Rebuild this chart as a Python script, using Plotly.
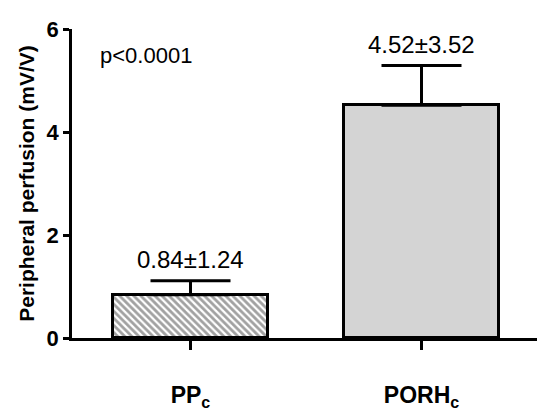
import plotly.graph_objects as go

# Group labels and measured values
categories = ["PP<sub>c</sub>", "PORH<sub>c</sub>"]
means = [0.84, 4.52]
sds = [1.24, 3.52]
sems = [0.27, 0.77]
y_ticks = [0, 2, 4, 6]

value_labels = [f"{m:.2f}\u00b1{s:.2f}" for m, s in zip(means, sds)]
xpos = list(range(len(categories)))

FONT = "Arial, Liberation Sans, sans-serif"

fig = go.Figure()

fig.add_trace(go.Bar(
    x=xpos,
    y=means,
    width=0.675,
    marker=dict(
        color=["white", "#d4d4d4"],
        line=dict(color="black", width=3),
        pattern=dict(shape=["\\", ""], fgcolor="black", bgcolor="white",
                     size=5, solidity=0.55),
    ),
    error_y=dict(type="data", array=sems, arrayminus=[0, 0], symmetric=False,
                 color="black", thickness=3, width=40),
    showlegend=False,
))

# Mean ± SD labels above each bar
for x, m, e, t in zip(xpos, means, sems, value_labels):
    fig.add_annotation(x=x, y=m + e, text=t, showarrow=False, yanchor="bottom",
                       yshift=6, font=dict(family=FONT, size=24, color="black"))

fig.add_annotation(x=0.056, y=0.913, xref="paper", yref="paper", text="p<0.0001",
                   showarrow=False, xanchor="left", yanchor="middle",
                   font=dict(family=FONT, size=22, color="black"))

fig.update_layout(
    width=537, height=411,
    margin=dict(l=72, r=0, t=29, b=73),
    plot_bgcolor="white", paper_bgcolor="white",
    font=dict(family=FONT, color="black"),
    bargap=0,
)

fig.update_xaxes(
    range=[-0.513, 1.5],
    tickvals=xpos, ticktext=categories,
    ticks="outside", ticklen=9, tickwidth=2.5, tickcolor="black",
    showline=True, linecolor="black", linewidth=2.5,
    showgrid=False, zeroline=False, automargin=False,
    tickfont=dict(family=FONT, size=23, color="black", weight="bold"),
    ticklabelstandoff=26,
)

fig.update_yaxes(
    range=[0, 6],
    tickvals=y_ticks, ticktext=[str(v) for v in y_ticks],
    ticks="outside", ticklen=6, tickwidth=2.5, tickcolor="black",
    showline=True, linecolor="black", linewidth=2.5,
    showgrid=False, zeroline=False, automargin=False,
    tickfont=dict(family=FONT, size=22, color="black", weight="bold"),
    title=dict(text="Peripheral perfusion (mV/V)",
               font=dict(family=FONT, size=21, color="black", weight="bold"),
               standoff=7),
)

fig.write_html("out.html")
